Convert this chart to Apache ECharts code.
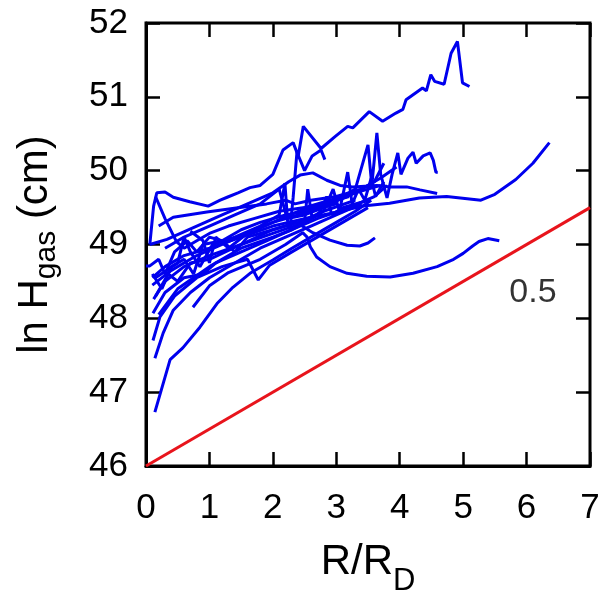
<!DOCTYPE html>
<html>
<head>
<meta charset="utf-8">
<script src="https://cdn.jsdelivr.net/npm/echarts@6/dist/echarts.min.js"></script>
<style>html,body{margin:0;padding:0;background:#fff}#c{width:614px;height:594px}</style>
</head>
<body>
<div id="c"></div>
<script>
// ---- data (R/R_D, ln H_gas) ----
var xTicks = [0, 1, 2, 3, 4, 5, 6, 7];
var yTicks = [46, 47, 48, 49, 50, 51, 52];
var refLine = [[0, 46], [7, 49.5]];
var refLabel = [[6.1, 48.35]];
var refLabelText = '0.5';

var curve01 = [[0.06,49.0],[0.12,49.52],[0.17,49.7],[0.3,49.71],[0.43,49.64],[0.69,49.58],[0.98,49.52],[1.17,49.6],[1.28,49.64],[1.45,49.7],[1.64,49.77],[1.8,49.8],[2.0,49.95],[2.16,50.28],[2.32,50.38],[2.4,50.2],[2.48,50.6],[2.76,50.3],[2.98,50.46],[3.18,50.6],[3.26,50.58],[3.52,50.8],[3.73,50.67],[3.94,50.78],[4.05,50.83],[4.1,50.96],[4.36,51.12],[4.42,51.08],[4.49,51.3],[4.55,51.21],[4.7,51.17],[4.81,51.59],[4.91,51.75],[4.99,51.19],[5.1,51.14]];
var curve02 = [[0.3,48.95],[0.6,49.1],[1.0,49.25],[1.4,49.4],[1.8,49.55],[2.1,49.75],[2.27,49.2],[2.32,49.64],[2.38,50.25],[2.5,50.0],[2.62,50.2],[2.76,50.28],[2.82,50.15]];
var curve03 = [[0.1,48.55],[0.3,48.7],[0.6,48.85],[1.0,48.95],[1.5,49.1],[2.0,49.25],[2.5,49.35],[2.9,49.42],[3.42,49.52],[3.84,49.56],[4.31,49.63],[4.74,49.65],[5.28,49.6],[5.5,49.68],[5.83,49.88],[6.1,50.1],[6.36,50.38]];
var curve04 = [[0.06,49.0],[0.33,49.07],[0.8,49.25],[1.2,49.4],[1.6,49.55],[2.0,49.7],[2.25,49.85],[2.43,49.94],[2.63,49.97],[2.85,49.87],[3.06,49.8],[3.26,49.78],[3.64,49.8],[3.85,49.78],[4.11,49.78],[4.32,49.74],[4.59,49.69]];
var curve05 = [[0.74,48.15],[1.0,48.44],[1.3,48.62],[1.8,48.8],[2.2,49.0],[2.47,49.16],[2.54,49.1],[2.59,48.97],[2.69,48.83],[2.9,48.7],[3.17,48.61],[3.48,48.57],[3.85,48.56],[4.21,48.61],[4.59,48.7],[4.85,48.8],[5.0,48.88],[5.15,48.98],[5.25,49.04],[5.39,49.08],[5.57,49.05]];
var curve06 = [[0.12,48.26],[0.3,48.5],[0.6,48.7],[1.0,48.85],[1.5,49.0],[2.0,49.2],[2.37,49.3],[2.63,49.16],[2.9,49.06],[3.17,48.99],[3.37,48.98],[3.5,49.02],[3.61,49.09]];
var curve07 = [[0.1,48.45],[0.4,48.65],[0.8,48.85],[1.2,49.0],[1.6,49.15],[2.0,49.3],[2.4,49.4],[2.8,49.5],[3.1,49.65],[3.3,49.75],[3.5,50.35],[3.56,49.8],[3.64,50.51],[3.7,49.95],[3.8,49.63],[3.88,49.95],[3.97,50.24],[4.02,49.95],[4.13,50.17],[4.21,50.25],[4.26,50.1],[4.37,50.2],[4.48,50.24],[4.53,50.14],[4.57,49.98],[4.6,49.98]];
var curve08 = [[0.15,48.3],[0.35,48.6],[0.5,48.5],[0.7,48.75],[1.0,48.8],[1.5,49.0],[2.0,49.15],[2.5,49.3],[2.8,49.45],[2.95,49.75],[3.05,49.45],[3.18,49.98],[3.25,49.55],[3.35,49.75],[3.45,49.6],[3.55,49.9],[3.62,49.65],[3.75,49.85]];
var curve09 = [[0.2,48.05],[0.5,48.4],[1.0,48.7],[1.5,48.95],[2.0,49.1],[2.3,49.2],[2.5,49.3],[2.55,49.75],[2.62,49.35],[2.75,49.45],[2.85,49.65],[2.93,49.4],[3.1,49.5],[3.3,49.55],[3.52,49.6]];
var curve10 = [[0.14,46.73],[0.38,47.44],[0.58,47.6],[0.85,47.88],[1.12,48.2],[1.37,48.42],[1.64,48.61],[2.0,48.79],[2.3,48.95],[2.6,49.1],[3.0,49.3],[3.3,49.45],[3.55,49.6]];
var curve11 = [[0.14,47.46],[0.27,47.8],[0.43,48.11],[0.7,48.35],[1.0,48.55],[1.4,48.75],[1.8,48.95],[2.2,49.1],[2.6,49.25],[3.0,49.4],[3.4,49.55]];
var curve12 = [[0.11,47.7],[0.22,48.02],[0.45,48.3],[0.8,48.55],[1.2,48.7],[1.6,48.8],[1.77,48.52],[1.95,48.72],[2.3,48.9],[2.7,49.1],[3.1,49.3],[3.5,49.5]];
var curve13 = [[0.11,48.07],[0.3,48.35],[0.6,48.55],[0.9,48.6],[1.1,48.75],[1.5,48.9],[1.9,49.05],[2.3,49.2],[2.7,49.35],[3.2,49.5],[3.6,49.65],[3.8,49.8]];
var curve14 = [[0.0,48.71],[0.06,48.71],[0.2,48.8],[0.3,48.6],[0.45,48.9],[0.65,49.05],[0.8,48.9],[1.0,49.1],[1.2,49.05],[1.5,49.2],[1.8,49.3],[2.2,49.4],[2.5,49.45],[2.9,49.55],[3.3,49.7],[3.6,49.85],[3.75,50.1]];
var curve15 = [[0.15,49.65],[0.3,49.35],[0.48,49.04],[0.6,48.95],[0.8,49.05],[1.0,49.15],[1.3,49.25],[1.7,49.35],[2.1,49.45],[2.5,49.5],[2.9,49.6],[3.3,49.7],[3.7,49.8]];
var curve16 = [[0.2,49.25],[0.43,49.37],[0.96,49.44],[1.48,49.5],[1.9,49.55],[2.2,49.6],[2.35,49.55],[2.6,49.6],[3.0,49.65],[3.4,49.75],[3.7,49.9],[3.95,50.05]];
var curve17 = [[0.15,48.55],[0.5,48.75],[0.6,49.1],[0.7,48.9],[0.85,48.7],[1.05,49.0],[1.4,49.1],[1.8,49.25],[2.1,49.4],[2.19,49.83],[2.23,49.35],[2.5,49.4],[2.8,49.5],[3.0,49.55]];
var curve18 = [[0.7,49.18],[0.9,49.05],[1.0,48.75],[1.1,49.1],[1.3,48.95],[1.6,49.15],[2.0,49.3],[2.4,49.45],[2.8,49.55],[3.2,49.65]];
var curve19 = [[0.1,48.6],[0.25,48.4],[0.4,48.7],[0.6,48.8],[0.75,48.6],[0.9,49.0],[1.2,49.05],[1.4,48.9],[1.6,49.1],[2.0,49.2],[2.4,49.3],[2.8,49.45],[3.3,49.6]];

var curves = [curve01,curve02,curve03,curve04,curve05,curve06,curve07,curve08,curve09,curve10,
              curve11,curve12,curve13,curve14,curve15,curve16,curve17,curve18,curve19];

// ---- chart ----
var FONT = 'Liberation Sans, Arial, sans-serif';
var chart = echarts.init(document.getElementById('c'), null, {renderer: 'canvas'});
var series = curves.map(function (c) {
  return {type: 'line', data: c, showSymbol: false, symbol: 'none', clip: true,
          lineStyle: {color: '#0000ee', width: 3}, z: 2};
});
series.push({type: 'line', data: refLine, showSymbol: false, symbol: 'none', clip: true,
             lineStyle: {color: '#e8141c', width: 3}, z: 3});
series.push({type: 'scatter', data: refLabel, symbolSize: 0, silent: true,
             label: {show: true, position: 'inside', formatter: refLabelText,
                     fontFamily: FONT, fontSize: 34, color: '#000'}});

function ticks() { return {show: true, inside: true, length: 14, lineStyle: {color: '#000', width: 2.5}}; }
function line(show) { return {show: show, onZero: false, lineStyle: {color: '#000', width: 3}}; }
chart.setOption({
  animation: false,
  backgroundColor: '#fff',
  grid: {left: 146, right: 24, top: 23, bottom: 128, show: true, outerBoundsMode: 'none',
         containLabel: false, borderColor: '#000', borderWidth: 3, backgroundColor: 'transparent'},
  xAxis: [{
    type: 'value', min: 0, max: 7, interval: 1,
    axisLine: line(true), axisTick: ticks(), splitLine: {show: false},
    axisLabel: {fontFamily: FONT, fontSize: 35, color: '#000', margin: 25,
                formatter: function (v) { return xTicks.indexOf(v) >= 0 ? String(v) : ''; }},
    name: '{a|R/R}{d|D}', nameLocation: 'middle', nameGap: 75,
    nameTextStyle: {fontFamily: FONT, fontSize: 42, color: '#000',
                    rich: {a: {fontFamily: FONT, fontSize: 42, color: '#000', lineHeight: 48, verticalAlign: 'top'},
                           d: {fontFamily: FONT, fontSize: 31, color: '#000', lineHeight: 31, padding: [25, 0, 0, 0], verticalAlign: 'top'}}}
  }, {
    type: 'value', min: 0, max: 7, interval: 1, position: 'top',
    axisLine: line(false), axisTick: ticks(), axisLabel: {show: false}, splitLine: {show: false}
  }],
  yAxis: [{
    type: 'value', min: 46, max: 52, interval: 1, position: 'left',
    axisLine: line(true), axisTick: ticks(), splitLine: {show: false},
    axisLabel: {fontFamily: FONT, fontSize: 35, color: '#000', margin: 18,
                formatter: function (v) { return yTicks.indexOf(v) >= 0 ? String(v) : ''; }},
    name: '{a|ln H}{s|gas}{a| (cm)}', nameLocation: 'middle', nameGap: 84,
    nameTextStyle: {fontFamily: FONT, fontSize: 42, color: '#000',
                    rich: {a: {fontFamily: FONT, fontSize: 42, color: '#000', lineHeight: 48, verticalAlign: 'top'},
                           s: {fontFamily: FONT, fontSize: 30, color: '#000', lineHeight: 30, padding: [18, 0, 0, 0], verticalAlign: 'top'}}}
  }, {
    type: 'value', min: 46, max: 52, interval: 1, position: 'right',
    axisLine: line(false), axisTick: ticks(), axisLabel: {show: false}, splitLine: {show: false}
  }],
  series: series
});
</script>
</body>
</html>
